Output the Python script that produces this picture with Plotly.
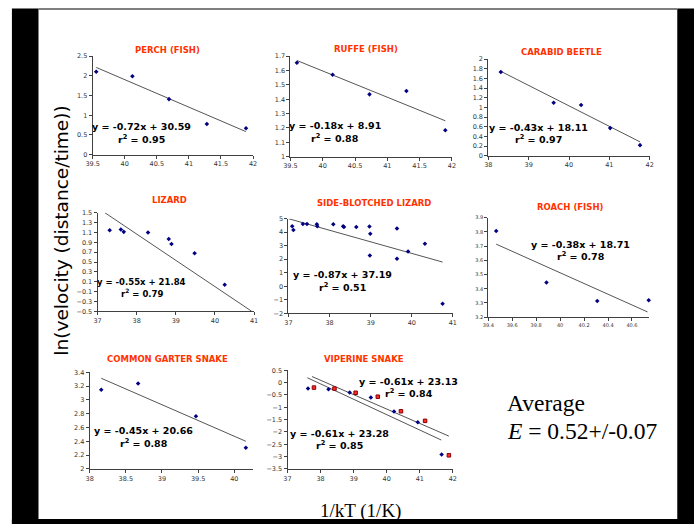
import plotly.graph_objects as go

W, H = 698, 528

# ---------------- data ----------------
perch_x = [39.556, 40.12, 40.69, 41.28, 41.89]
perch_y = [2.106, 1.99, 1.41, 0.78, 0.67]
perch_trend_x = [39.556, 41.887]
perch_trend_y = [2.215, 0.587]

ruffe_x = [39.60, 40.153, 40.724, 41.296, 41.898]
ruffe_y = [1.654, 1.571, 1.434, 1.457, 1.184]
ruffe_trend_x = [39.60, 41.898]
ruffe_trend_y = [1.670, 1.25]

carabid_x = [38.31, 39.62, 40.30, 41.02, 41.76]
carabid_y = [1.735, 1.095, 1.048, 0.571, 0.218]
carabid_trend_x = [38.31, 41.76]
carabid_trend_y = [1.748, 0.286]

lizard_x = [37.31, 37.595, 37.67, 38.29, 38.82, 38.89, 39.48, 40.25]
lizard_y = [1.147, 1.16, 1.113, 1.10, 0.967, 0.867, 0.68, 0.04]
lizard_trend_x = [37.19, 40.94]
lizard_trend_y = [1.5, -0.5]

sideb_x = [37.09, 37.12, 37.35, 37.45, 37.69, 37.70, 38.09, 38.33, 38.35, 38.65,
           38.97, 38.99, 38.98, 39.64, 39.64, 39.91, 40.32, 40.75]
sideb_y = [4.44, 4.17, 4.61, 4.61, 4.59, 4.44, 4.59, 4.44, 4.39, 4.39,
           4.42, 3.88, 2.28, 4.27, 2.03, 2.57, 3.15, -1.30]
sideb_trend_x = [37.0, 40.75]
sideb_trend_y = [5.0, 1.79]

roach_x = [39.466, 39.886, 40.31, 40.74]
roach_y = [3.807, 3.444, 3.314, 3.319]
roach_trend_x = [39.466, 40.73]
roach_trend_y = [3.714, 3.237]

garter_x = [38.16, 38.67, 39.47, 40.16]
garter_y = [3.148, 3.238, 2.762, 2.305]
garter_trend_x = [38.16, 40.16]
garter_trend_y = [3.314, 2.40]

viper_blue_x = [37.62, 38.24, 38.88, 39.52, 40.22, 40.94, 41.66]
viper_blue_y = [-0.24, -0.27, -0.40, -0.60, -1.17, -1.61, -2.92]
viper_red_x = [37.80, 38.42, 39.06, 39.73, 40.43, 41.16, 41.88]
viper_red_y = [-0.20, -0.24, -0.41, -0.57, -1.16, -1.55, -2.95]
viper_blue_trend_x = [37.60, 41.65]
viper_blue_trend_y = [0.20, -2.33]
viper_red_trend_x = [37.74, 41.88]
viper_red_trend_y = [0.25, -2.17]

titles = ["PERCH (FISH)", "RUFFE (FISH)", "CARABID BEETLE", "LIZARD",
          "SIDE-BLOTCHED LIZARD", "ROACH (FISH)", "COMMON GARTER SNAKE", "VIPERINE SNAKE"]
equations = ["y = -0.72x + 30.59", "y = -0.18x + 8.91", "y = -0.43x + 18.11",
             "y = -0.55x + 21.84", "y = -0.87x + 37.19", "y = -0.38x + 18.71",
             "y = -0.45x + 20.66", "y = -0.61x + 23.13", "y = -0.61x + 23.28"]
r2_values = ["0.95", "0.88", "0.97", "0.79", "0.51", "0.78", "0.88", "0.84", "0.85"]

# ---------------- layout helpers ----------------
def fx(p):
    return p / W

def fy(p):
    return 1 - p / H

fig = go.Figure()

panels = [
    dict(px=(87, 250, 53, 153), xr=[39.5, 42], xd=0.5, yr=[0, 2.5], yd=0.5, t=(163, 47)),
    dict(px=(288, 452, 53, 155), xr=[39.5, 42], xd=0.5, yr=[1, 1.7], yd=0.1, t=(365, 46)),
    dict(px=(489, 653, 56, 154), xr=[38, 42], xd=1, yr=[0, 2], yd=0.2, t=(563, 49)),
    dict(px=(92, 251, 212, 312), xr=[37, 41], xd=1, yr=[-0.5, 1.5], yd=0.2, t=(165, 199)),
    dict(px=(286, 453, 218, 314), xr=[37, 41], xd=1, yr=[-2, 5], yd=1, t=(373, 202)),
    dict(px=(489, 652, 217, 318), xr=[39.4, 40.74], xd=0.2, yr=[3.2, 3.9], yd=0.1, t=(573, 206), small=True),
    dict(px=(84, 250, 374, 472), xr=[38, 40.26], xd=0.5, yr=[2, 3.4], yd=0.2, t=(163, 360)),
    dict(px=(285, 453, 372, 472), xr=[37, 42], xd=1, yr=[-3.5, 0.5], yd=0.5, t=(363, 360)),
]

series = [
    [(perch_x, perch_y, 'blue')],
    [(ruffe_x, ruffe_y, 'blue')],
    [(carabid_x, carabid_y, 'blue')],
    [(lizard_x, lizard_y, 'blue')],
    [(sideb_x, sideb_y, 'blue')],
    [(roach_x, roach_y, 'blue')],
    [(garter_x, garter_y, 'blue')],
    [(viper_blue_x, viper_blue_y, 'blue'), (viper_red_x, viper_red_y, 'red')],
]
trends = [
    [(perch_trend_x, perch_trend_y)],
    [(ruffe_trend_x, ruffe_trend_y)],
    [(carabid_trend_x, carabid_trend_y)],
    [(lizard_trend_x, lizard_trend_y)],
    [(sideb_trend_x, sideb_trend_y)],
    [(roach_trend_x, roach_trend_y)],
    [(garter_trend_x, garter_trend_y)],
    [(viper_blue_trend_x, viper_blue_trend_y), (viper_red_trend_x, viper_red_trend_y)],
]

axis_col = "#404040"
for i, p in enumerate(panels):
    n = i + 1
    xa = "x" if n == 1 else f"x{n}"
    ya = "y" if n == 1 else f"y{n}"
    x0, x1, yt, yb = p["px"]
    fsize = 5 if p.get("small") else 6.5
    common = dict(showline=True, linecolor=axis_col, linewidth=1, ticks="outside",
                  ticklen=3, tickcolor=axis_col, tickwidth=1, showgrid=False,
                  zeroline=False, tickfont=dict(family="DejaVu Sans", size=fsize, color="#333333"))
    fig.layout[f"xaxis{'' if n == 1 else n}"] = dict(
        domain=[fx(x0), fx(x1)], range=p["xr"], tick0=p["xr"][0], dtick=p["xd"],
        anchor=ya, **common)
    fig.layout[f"yaxis{'' if n == 1 else n}"] = dict(
        domain=[fy(yb), fy(yt)], range=p["yr"], tick0=p["yr"][0], dtick=p["yd"],
        anchor=xa, **common)
    for tx, ty in trends[i]:
        fig.add_trace(go.Scatter(x=tx, y=ty, mode="lines", xaxis=xa, yaxis=ya,
                                 line=dict(color="#555555", width=1), showlegend=False,
                                 hoverinfo="skip"))
    for sx, sy, col in series[i]:
        if col == 'blue':
            mk = dict(symbol="diamond", size=3.5, color="#000080")
        else:
            mk = dict(symbol="square", size=3.5, color="#FF2a2a", line=dict(color="#8B0000", width=1))
        fig.add_trace(go.Scatter(x=sx, y=sy, mode="markers", xaxis=xa, yaxis=ya,
                                 marker=mk, showlegend=False, cliponaxis=False))
    fig.add_annotation(x=fx(p["t"][0]), y=fy(p["t"][1]), xref="paper", yref="paper",
                       xanchor="center", yanchor="middle",
                       text=f"<b>{titles[i]}</b>", showarrow=False,
                       font=dict(family="DejaVu Sans", size=8.5, color="#FF3300"))

eq_pos = [
    (137, 124, 137), (333, 123, 136), (540, 125, 137), (137, 282, 293),
    (341, 275, 287), (583, 244, 256), (139, 433, 446), (408, 383, 395), (338, 436, 448),
]
for k, (cx, ey, ry) in enumerate(eq_pos):
    sz = 8.5 if k == 3 else 9.5
    fig.add_annotation(x=fx(cx), y=fy(ey), xref="paper", yref="paper",
                       xanchor="center", yanchor="middle",
                       text=f"<b>{equations[k]}</b>", showarrow=False,
                       font=dict(family="DejaVu Sans", size=sz, color="black"))
    fig.add_annotation(x=fx(cx), y=fy(ry), xref="paper", yref="paper",
                       xanchor="center", yanchor="middle",
                       text=f"<b>r<sup>2</sup> = {r2_values[k]}</b>", showarrow=False,
                       font=dict(family="DejaVu Sans", size=sz, color="black"))

fig.add_annotation(x=fx(506), y=fy(405), xref="paper", yref="paper",
                   xanchor="left", yanchor="middle",
                   text="Average", showarrow=False,
                   font=dict(family="Liberation Serif", size=23.5, color="black"))
fig.add_annotation(x=fx(506), y=fy(434), xref="paper", yref="paper",
                   xanchor="left", yanchor="middle",
                   text="<i>E</i> = 0.52+/-0.07", showarrow=False,
                   font=dict(family="Liberation Serif", size=23.5, color="black"))

fig.add_annotation(x=fx(55), y=fy(230), xref="paper", yref="paper", textangle=-90,
                   xanchor="center", yanchor="middle",
                   text="ln(velocity (distance/time))", showarrow=False,
                   font=dict(family="DejaVu Sans", size=18.5, color="black"))
fig.add_annotation(x=fx(359), y=fy(515), xref="paper", yref="paper",
                   xanchor="center", yanchor="middle",
                   text="1/kT (1/K)", showarrow=False,
                   font=dict(family="Liberation Serif", size=19, color="black"))

shapes = [
    dict(type="rect", x0=fx(5), x1=fx(32), y0=fy(528), y1=fy(4.5), fillcolor="black", line_width=0),
    dict(type="rect", x0=fx(681), x1=fx(698), y0=fy(528), y1=fy(4.5), fillcolor="black", line_width=0),
    dict(type="rect", x0=fx(5), x1=fx(698), y0=fy(528), y1=fy(523), fillcolor="black", line_width=0),
    dict(type="line", x0=fx(32), x1=fx(681), y0=fy(5), y1=fy(5), line=dict(color="#555555", width=1.5)),
]
for s in shapes:
    s.update(xref="paper", yref="paper")
fig.update_layout(shapes=shapes)

fig.update_layout(width=W, height=H, margin=dict(l=0, r=0, t=0, b=0),
                  paper_bgcolor="white", plot_bgcolor="white", showlegend=False)

fig.write_html("out.html", config={"displayModeBar": False},
               post_script="document.body.style.margin='0';document.body.style.padding='0';document.body.style.overflow='hidden';")
